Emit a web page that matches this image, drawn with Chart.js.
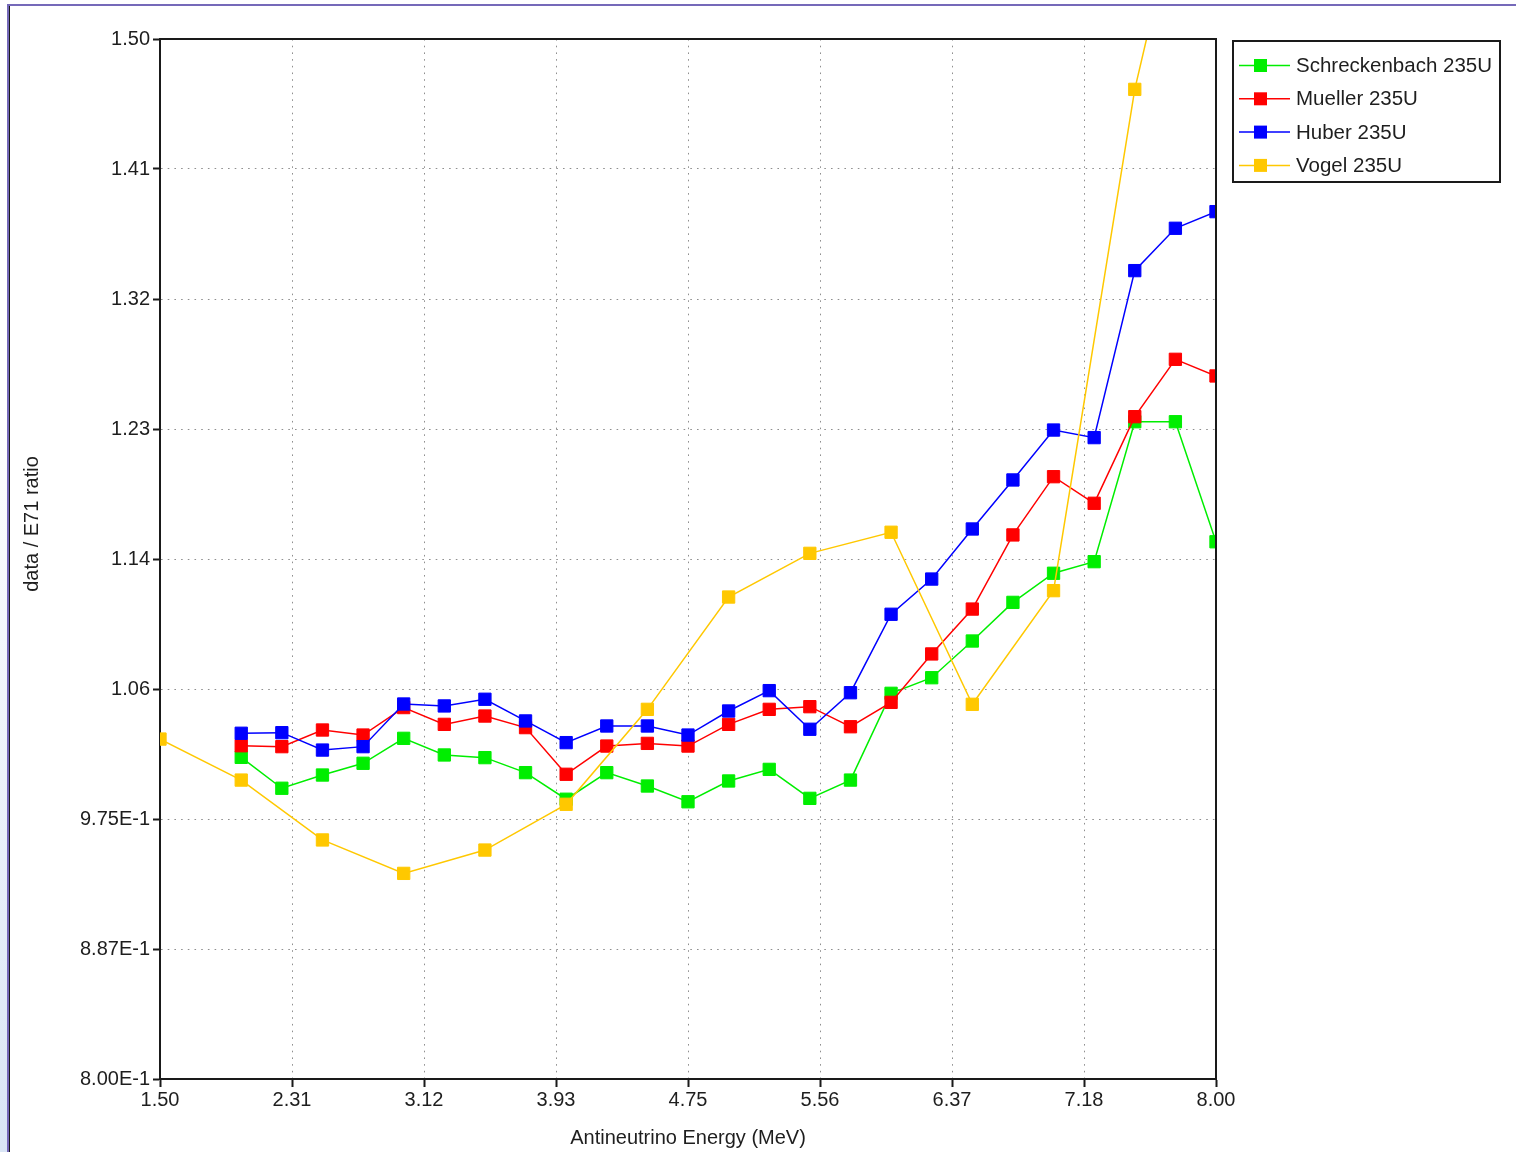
<!DOCTYPE html>
<html>
<head>
<meta charset="utf-8">
<title>data / E71 ratio</title>
<script src="https://cdn.jsdelivr.net/npm/chart.js@4.4.1/dist/chart.umd.min.js"></script>
<style>
  html, body { margin: 0; padding: 0; width: 1516px; height: 1152px; overflow: hidden; background: #ffffff; }
  #side { position: absolute; left: 0; top: 0; width: 7px; height: 1152px;
          background: linear-gradient(#ffffff 0%, #ffffff 35%, #d9e5f5 100%); }
  #frame { position: absolute; left: 7px; top: 4px; right: 0; bottom: 0;
           border-top: 2px solid #7569b9; border-left: 2px solid #7569b9; }
  #frameInner { position: absolute; left: 0; top: 0; bottom: 0; border-left: 1px solid #1a1a1a; }
  #wrap { position: absolute; left: 0; top: 0; width: 1516px; height: 1152px; }
</style>
</head>
<body>
<div id="side"></div>
<div id="frame"><div id="frameInner"></div></div>
<div id="wrap"><canvas id="chart" width="1516" height="1152"></canvas></div>
<script>
// Antineutrino energy grid (MeV)
const energy = [2.00, 2.25, 2.50, 2.75, 3.00, 3.25, 3.50, 3.75, 4.00, 4.25, 4.50, 4.75,
                5.00, 5.25, 5.50, 5.75, 6.00, 6.25, 6.50, 6.75, 7.00, 7.25, 7.50, 7.75, 8.00];
const vogelEnergy = [1.5, 2.0, 2.5, 3.0, 3.5, 4.0, 4.5, 5.0, 5.5, 6.0, 6.5, 7.0, 7.5, 8.0];

// data / E71 ratio per model
const schreckenbach = [1.0165, 0.9957, 1.0046, 1.0125, 1.0293, 1.0181, 1.0163, 1.0062, 0.9883, 1.0062,
                       0.9972, 0.9866, 1.0006, 1.0084, 0.9889, 1.0012, 1.0596, 1.0701, 1.0948, 1.1208,
                       1.1404, 1.1482, 1.2424, 1.2424, 1.1616];
const mueller = [1.0243, 1.0237, 1.0349, 1.0315, 1.0500, 1.0387, 1.0443, 1.0365, 1.0051, 1.0241,
                 1.0259, 1.0241, 1.0387, 1.0488, 1.0506, 1.0371, 1.0535, 1.0861, 1.1163, 1.1662,
                 1.2054, 1.1875, 1.2458, 1.2844, 1.2732];
const huber = [1.0327, 1.0331, 1.0214, 1.0237, 1.0524, 1.0511, 1.0556, 1.0410, 1.0264, 1.0376,
               1.0376, 1.0315, 1.0477, 1.0614, 1.0354, 1.0600, 1.1128, 1.1365, 1.1702, 1.2032,
               1.2368, 1.2317, 1.3441, 1.3726, 1.3838];
const vogel = [1.0288, 1.0012, 0.9609, 0.9384, 0.9541, 0.9849, 1.0488, 1.1244, 1.1538, 1.1680,
               1.0522, 1.1287, 1.4661, 1.70];

// Axis ticks
const xTickValues = [1.5, 2.3125, 3.125, 3.9375, 4.75, 5.5625, 6.375, 7.1875, 8.0];
const xTickLabels = ['1.50', '2.31', '3.12', '3.93', '4.75', '5.56', '6.37', '7.18', '8.00'];
const yTickValues = [0.8, 0.8875, 0.975, 1.0625, 1.15, 1.2375, 1.325, 1.4125, 1.5];
const yTickLabels = ['8.00E-1', '8.87E-1', '9.75E-1', '1.06', '1.14', '1.23', '1.32', '1.41', '1.50'];

const seriesNames = ['Schreckenbach 235U', 'Mueller 235U', 'Huber 235U', 'Vogel 235U'];
const seriesColors = ['#00ee00', '#ff0000', '#0000ff', '#ffc800'];

const FONT = '"Liberation Sans", Arial, sans-serif';
const TEXT = '#1e1e1e';

function series(name, xs, ys, color, order) {
  return {
    label: name,
    data: xs.map((x, i) => ({ x: x, y: ys[i] })),
    borderColor: color,
    backgroundColor: color,
    borderWidth: 1.5,
    pointStyle: 'rect',
    pointRadius: 8.7,
    pointHoverRadius: 8.7,
    pointBorderWidth: 1,
    pointBorderColor: color,
    pointBackgroundColor: color,
    tension: 0,
    fill: false,
    order: order
  };
}

// Frame, legend and axis titles
const decorations = {
  id: 'decorations',
  afterDatasetsDraw(chart) {
    const { ctx, chartArea: a } = chart;
    ctx.save();
    ctx.strokeStyle = '#1a1a1a';
    ctx.lineWidth = 2;
    ctx.beginPath();
    ctx.moveTo(a.left, a.top);
    ctx.lineTo(a.right, a.top);
    ctx.lineTo(a.right, a.bottom);
    ctx.stroke();
    ctx.restore();
  },
  afterDraw(chart) {
    const { ctx, chartArea: a } = chart;
    ctx.save();
    // legend box
    const bx = 1233, by = 41, bw = 267, bh = 141;
    ctx.fillStyle = '#ffffff';
    ctx.fillRect(bx, by, bw, bh);
    ctx.strokeStyle = '#1a1a1a';
    ctx.lineWidth = 2;
    ctx.strokeRect(bx, by, bw, bh);
    ctx.font = '20.5px ' + FONT;
    ctx.textBaseline = 'middle';
    ctx.textAlign = 'left';
    seriesNames.forEach((name, i) => {
      const y = 65.5 + i * 33.3;
      const c = seriesColors[i];
      ctx.strokeStyle = c;
      ctx.lineWidth = 1.5;
      ctx.beginPath();
      ctx.moveTo(1239, y);
      ctx.lineTo(1290, y);
      ctx.stroke();
      ctx.fillStyle = c;
      ctx.fillRect(1254, y - 6.5, 13, 13);
      ctx.fillStyle = TEXT;
      ctx.fillText(name, 1296, y + 1);
    });
    // axis titles
    ctx.fillStyle = TEXT;
    ctx.font = '20px ' + FONT;
    ctx.textAlign = 'center';
    ctx.textBaseline = 'middle';
    ctx.fillText('Antineutrino Energy (MeV)', (a.left + a.right) / 2, 1138);
    ctx.translate(32, 524);
    ctx.rotate(-Math.PI / 2);
    ctx.fillText('data / E71 ratio', 0, 0);
    ctx.restore();
  }
};

const gridStyle = {
  color: '#8f8f8f',
  lineWidth: 1,
  borderDash: [1.6, 5.1],
  tickColor: '#1a1a1a',
  tickWidth: 2,
  tickBorderDash: [1, 0]
};

new Chart(document.getElementById('chart'), {
  type: 'line',
  data: {
    datasets: [
      series(seriesNames[0], energy, schreckenbach, seriesColors[0], 4),
      series(seriesNames[1], energy, mueller, seriesColors[1], 3),
      series(seriesNames[2], energy, huber, seriesColors[2], 2),
      series(seriesNames[3], vogelEnergy, vogel, seriesColors[3], 1)
    ]
  },
  options: {
    responsive: false,
    animation: false,
    events: [],
    layout: { padding: { left: 0, top: 39, right: 300, bottom: 0 } },
    plugins: { legend: { display: false }, tooltip: { enabled: false }, title: { display: false } },
    scales: {
      x: {
        type: 'linear',
        min: 1.5,
        max: 8,
        afterBuildTicks: s => { s.ticks = xTickValues.map(v => ({ value: v })); },
        afterFit: s => { s.height = 73; },
        ticks: {
          callback: (v, i) => xTickLabels[i],
          font: { family: FONT, size: 20 },
          color: TEXT,
          padding: 1,
          maxRotation: 0,
          autoSkip: false
        },
        grid: Object.assign({ tickLength: 8 }, gridStyle),
        border: { color: '#1a1a1a', width: 2, dash: [1.6, 5.1] }
      },
      y: {
        type: 'linear',
        min: 0.8,
        max: 1.5,
        afterBuildTicks: s => { s.ticks = yTickValues.map(v => ({ value: v })); },
        afterFit: s => { s.width = 160; },
        ticks: {
          callback: (v, i) => yTickLabels[i],
          font: { family: FONT, size: 20 },
          color: TEXT,
          padding: 3,
          autoSkip: false
        },
        grid: Object.assign({ tickLength: 7 }, gridStyle),
        border: { color: '#1a1a1a', width: 2, dash: [1.6, 5.1] }
      }
    }
  },
  plugins: [decorations]
});
</script>
</body>
</html>
